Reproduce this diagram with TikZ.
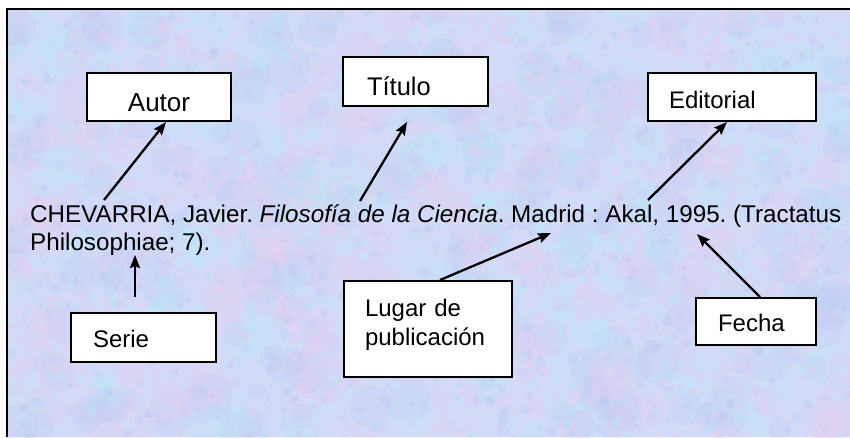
\documentclass[tikz,border=0pt]{standalone}
\usepackage{fontspec}
\setmainfont{Liberation Sans}
\usetikzlibrary{arrows.meta,calc}
\definecolor{bgbase}{RGB}{210,218,247}
\definecolor{texA}{RGB}{236,206,240}
\definecolor{texB}{RGB}{186,234,248}
\definecolor{texC}{RGB}{190,200,244}
\tikzset{
  lbl/.style={draw=black, fill=white, line width=2pt, inner ysep=0pt, text depth=0pt,
    font=\fontsize{24}{28.3}\selectfont},
  arr/.style={line width=2.3pt, -{Stealth[length=13pt,width=10pt,inset=2pt]}},
  cite/.style={anchor=base west, inner sep=0pt, font=\fontsize{24.2}{28}\selectfont}
}
\begin{document}
\frenchspacing
\begin{tikzpicture}[x=1pt,y=-1pt]
\useasboundingbox (0,0) rectangle (850,437);
% textured background
\begin{scope}
  \clip (7,9) rectangle (850,437);
  \fill[bgbase] (7,9) rectangle (850,437);
  \pgfmathsetseed{11}
  \foreach \i in {1,...,700}{
    \pgfmathsetmacro\xx{7+843*rnd}
    \pgfmathsetmacro\yy{9+428*rnd}
    \pgfmathsetmacro\rr{8+16*rnd}
    \pgfmathtruncatemacro\cc{3*rnd}
    \ifcase\cc \def\col{texA}\or \def\col{texB}\else \def\col{texC}\fi
    \fill[\col, opacity=0.22] (\xx,\yy) circle (\rr);
  }
  \foreach \i in {1,...,2400}{
    \pgfmathsetmacro\xx{7+843*rnd}
    \pgfmathsetmacro\yy{9+428*rnd}
    \pgfmathsetmacro\rr{1.5+4*rnd}
    \pgfmathtruncatemacro\cc{3*rnd}
    \ifcase\cc \def\col{texA}\or \def\col{texB}\else \def\col{texC}\fi
    \fill[\col, opacity=0.3] (\xx,\yy) circle (\rr);
  }
\end{scope}
\draw[line width=2.5pt] (7,437) -- (7,9) -- (850,9);

% label boxes
\node[lbl, inner xsep=0pt, text width=144pt, align=center, minimum height=48pt,
      text height=28pt, font=\fontsize{26}{30}\selectfont] (autor) at (159,97) {Autor};
\node[lbl, inner xsep=24pt, text width=97pt, align=left, minimum height=49pt,
      text height=27pt, font=\fontsize{25.5}{30}\selectfont] (titulo) at (415.5,81.5) {Título};
\node[lbl, inner xsep=21pt, text width=126pt, align=left, minimum height=48pt,
      text height=22.6pt] (editorial) at (732,97) {Editorial};
\node[lbl, inner xsep=22pt, text width=101pt, align=left, minimum height=49pt,
      text height=19.6pt] (serie) at (143.5,337.5) {Serie};
\node[lbl, inner xsep=22pt, text width=76pt, align=left, minimum height=47pt,
      text height=20.4pt] (fecha) at (756,321.5) {Fecha};
\node[lbl, inner xsep=21pt, text width=126pt, align=left, minimum height=96pt,
      text height=17.5pt, text depth=42pt] (lugar) at (428,329) {Lugar de\\publicación};

% citation text
\node[cite] (cite1) at (30,222) {CHEVARRIA, Javier. \textit{Filosofía de la Ciencia}. Madrid : Akal, 1995. (Tractatus};
\node[cite] (cite2) at (30,250) {Philosophiae; 7).};

% connectors
\coordinate (autorTail) at (104,200);
\coordinate (tituloTail) at (360,201);
\coordinate (tituloHead) at (407,122);
\coordinate (editorialTail) at (648,200);
\coordinate (serieTail) at (135,297);
\coordinate (serieHead) at (135,255);
\coordinate (lugarHead) at (551,233);
\coordinate (fechaHead) at (697,234);

\draw[arr] (autorTail) -- ([xshift=7pt]autor.south);
\draw[arr] (tituloTail) -- (tituloHead);
\draw[arr] (editorialTail) -- ([xshift=-5pt]editorial.south);
\draw[arr] (serieTail) -- (serieHead);
\draw[arr] ([xshift=12pt]lugar.north) -- (lugarHead);
\draw[arr] ([xshift=4pt]fecha.north) -- (fechaHead);
\end{tikzpicture}
\end{document}
